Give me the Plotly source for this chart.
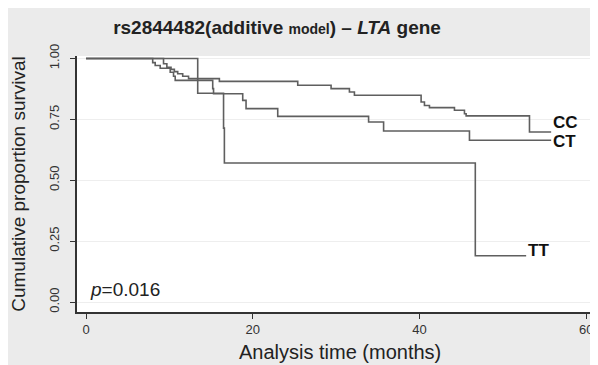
import plotly.graph_objects as go

# Kaplan-Meier step data
cc_time = [0, 9.3, 9.7, 10.2, 10.6, 11.0, 11.6, 12.3, 16.0, 25.4, 29.4, 31.6, 32.2, 40.2, 40.6, 41.2, 44.2, 45.4, 45.6, 53.2, 55.8]
cc_surv = [1.0, 0.978, 0.964, 0.955, 0.946, 0.937, 0.927, 0.917, 0.906, 0.890, 0.876, 0.862, 0.849, 0.821, 0.807, 0.798, 0.787, 0.773, 0.764, 0.698, 0.698]

ct_time = [0, 8.0, 8.3, 8.9, 10.1, 10.5, 10.7, 15.2, 15.3, 18.8, 19.2, 23.0, 33.9, 35.7, 46.0, 55.8]
ct_surv = [1.0, 0.983, 0.971, 0.960, 0.943, 0.927, 0.910, 0.876, 0.855, 0.828, 0.794, 0.762, 0.739, 0.702, 0.664, 0.664]

tt_time = [0, 13.4, 16.5, 16.6, 46.7, 52.8]
tt_surv = [1.0, 0.857, 0.714, 0.571, 0.190, 0.190]

group_labels = ["CC", "CT", "TT"]
x_ticks = [0, 20, 40, 60]
y_ticks = [0, 0.25, 0.5, 0.75, 1.0]
y_tick_text = ["0.00", "0.25", "0.50", "0.75", "1.00"]
p_text = "<i>p</i>=0.016"
x_title = "Analysis time (months)"

line_color = "#5f5f5f"
fig = go.Figure()
series = [(cc_time, cc_surv), (ct_time, ct_surv), (tt_time, tt_surv)]
for (t, s), name in zip(series, group_labels):
    fig.add_trace(go.Scatter(x=t, y=s, mode="lines", line_shape="hv",
                             line=dict(color=line_color, width=1.6), name=name,
                             showlegend=False))

# End labels
label_pos = [(cc_time[-1], cc_surv[-1] + 0.04), (ct_time[-1], ct_surv[-1] - 0.006), (tt_time[-1], tt_surv[-1] + 0.02)]
for (x, y), name in zip(label_pos, group_labels):
    fig.add_annotation(x=x, y=y, text="<b>" + name + "</b>", showarrow=False,
                       xanchor="left", yanchor="middle", xshift=0,
                       font=dict(family="Arial", size=17, color="#111111"))

fig.add_annotation(x=0.2, y=0.05, text=p_text, showarrow=False, xanchor="left",
                   yanchor="middle", font=dict(family="Arial", size=19, color="#222222"))

# x-axis title as annotation (slightly right of plot centre, as in the reference)
fig.add_annotation(x=0.511, y=0, xref="paper", yref="paper", yshift=-40,
                   text=x_title, showarrow=False, xanchor="center", yanchor="middle",
                   font=dict(family="Arial", size=20, color="#222222"))

fig.update_layout(
    width=590, height=357,
    margin=dict(l=69, r=6, t=48, b=53, autoexpand=False),
    paper_bgcolor="#ebebeb",
    plot_bgcolor="#ffffff",
    title=dict(text="<b>rs2844482(additive <span style='font-size:14px'>model</span>) – <i>LTA</i> gene</b>",
               x=0.456, xanchor="center", y=0.947, yanchor="middle", automargin=False,
               font=dict(family="Arial", size=19, color="#222222")),
    xaxis=dict(range=[-1.08, 60.7], tickvals=x_ticks, ticks="outside", ticklen=5,
               tickcolor="#333333", showline=True, linecolor="#333333", linewidth=1.5,
               showgrid=False, zeroline=False, automargin=False,
               tickfont=dict(family="Arial", size=13, color="#333333")),
    yaxis=dict(range=[-0.041, 1.01], tickvals=y_ticks, ticktext=y_tick_text,
               tickangle=-90, ticks="outside", ticklen=5, tickcolor="#333333",
               showline=True, linecolor="#333333", linewidth=1.5,
               showgrid=True, gridcolor="#eeeeee", zeroline=False, automargin=False,
               ticklabelstandoff=6,
               tickfont=dict(family="Arial", size=13, color="#333333"),
               title=dict(text="Cumulative proportion survival", standoff=16,
                          font=dict(family="Arial", size=19, color="#222222"))),
)

fig.write_html("out.html")
